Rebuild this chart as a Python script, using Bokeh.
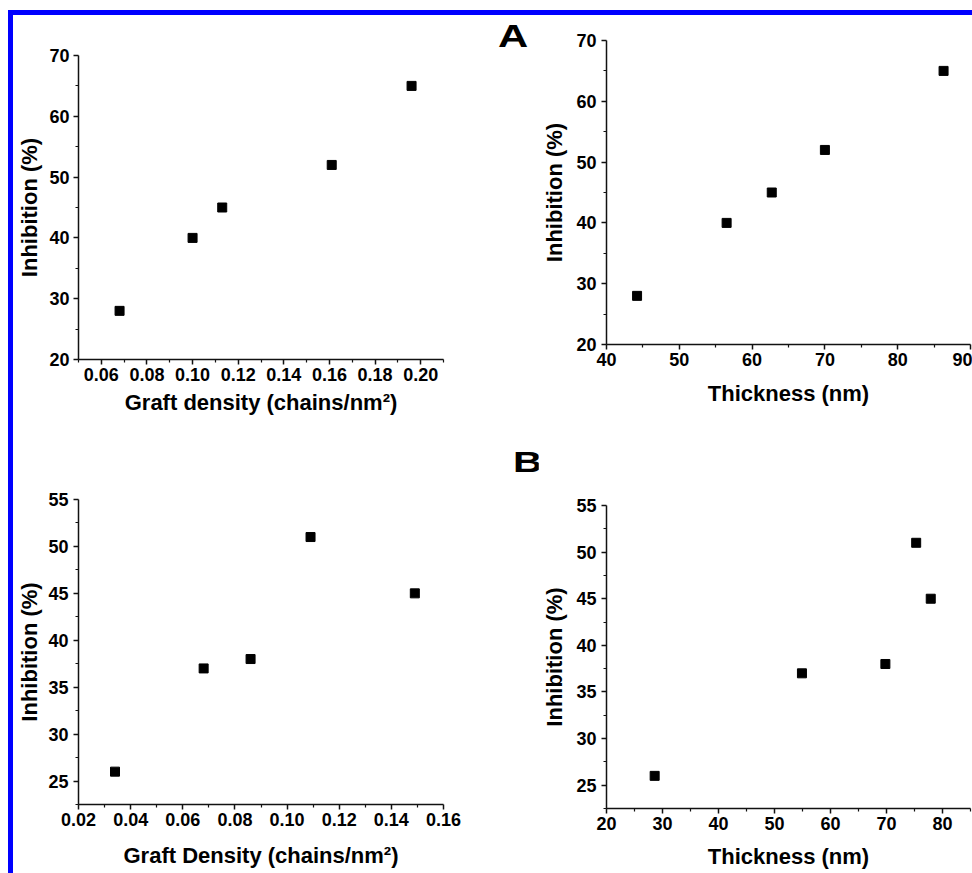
from bokeh.plotting import figure
from bokeh.layouts import column, row
from bokeh.models import FixedTicker, Range1d, NumeralTickFormatter, Spacer, Div
from bokeh.embed import file_html
from bokeh.resources import INLINE

# ---- data ----
graft_density_A = [0.068, 0.100, 0.113, 0.161, 0.196]
thickness_A = [44.2, 56.5, 62.7, 70.0, 86.3]
inhibition_A = [28, 40, 45, 52, 65]

graft_density_B = [0.034, 0.068, 0.086, 0.109, 0.149]
thickness_B = [28.6, 54.9, 69.8, 75.3, 77.9]
inhibition_B = [26, 37, 38, 51, 45]

ticks_gd_A = [0.06, 0.08, 0.10, 0.12, 0.14, 0.16, 0.18, 0.20]
minor_gd_A = [0.05, 0.07, 0.09, 0.11, 0.13, 0.15, 0.17, 0.19, 0.21]
ticks_th_A = [40, 50, 60, 70, 80, 90]
minor_th_A = [45, 55, 65, 75, 85]
ticks_inh_A = [20, 30, 40, 50, 60, 70]
minor_inh_A = [25, 35, 45, 55, 65]

ticks_gd_B = [0.02, 0.04, 0.06, 0.08, 0.10, 0.12, 0.14, 0.16]
minor_gd_B = [0.03, 0.05, 0.07, 0.09, 0.11, 0.13, 0.15]
ticks_th_B = [20, 30, 40, 50, 60, 70, 80]
minor_th_B = [25, 35, 45, 55, 65, 75, 85]
ticks_inh_B = [25, 30, 35, 40, 45, 50, 55]
minor_inh_B = [22.5, 27.5, 32.5, 37.5, 42.5, 47.5, 52.5]

FONT = "Liberation Sans"
BLUE = "#0000ff"


def style_axis(ax, label, ticks, minor, fmt, label_standoff, tick_standoff):
    ax.axis_label = label
    ax.axis_label_text_font = FONT
    ax.axis_label_text_font_size = "22px"
    ax.axis_label_text_font_style = "bold"
    ax.axis_label_text_color = "black"
    ax.axis_label_standoff = label_standoff
    ax.ticker = FixedTicker(ticks=ticks, minor_ticks=minor)
    ax.formatter = NumeralTickFormatter(format=fmt)
    ax.major_label_text_font = FONT
    ax.major_label_text_font_size = "18px"
    ax.major_label_text_font_style = "bold"
    ax.major_label_text_color = "black"
    ax.major_label_standoff = tick_standoff
    ax.axis_line_color = "#111111"
    ax.axis_line_width = 1.5
    ax.major_tick_line_color = "#111111"
    ax.major_tick_line_width = 1.5
    ax.major_tick_out = 5
    ax.major_tick_in = 0
    ax.minor_tick_line_color = "#111111"
    ax.minor_tick_line_width = 1.2
    ax.minor_tick_out = 3
    ax.minor_tick_in = 0


def make_fig(w, h, xr, yr, bl, br, bt, bb):
    p = figure(width=w, height=h, x_range=Range1d(*xr), y_range=Range1d(*yr),
               output_backend="svg", toolbar_location=None,
               min_border_left=bl, min_border_right=br,
               min_border_top=bt, min_border_bottom=bb)
    p.xgrid.visible = False
    p.ygrid.visible = False
    p.outline_line_color = None
    p.background_fill_color = "white"
    p.border_fill_color = "white"
    return p


def letter_div(ch, w, h, size, pad_left, pad_top, stretch):
    html = ('<div style="margin:0;padding:%dpx 0 0 %dpx;">'
            '<span style="display:inline-block;font-family:\'%s\';font-weight:bold;'
            'font-size:%dpx;line-height:%dpx;color:black;transform:scaleX(%.2f);'
            'transform-origin:left top;">%s</span></div>'
            % (pad_top, pad_left, FONT, size, size, stretch, ch))
    return Div(text=html, width=w, height=h, margin=0)


# ---- top-left ----
p1 = make_fig(467, 405, (0.05, 0.21), (20, 70), 65, 37, 40, 61)
p1.scatter(graft_density_A, inhibition_A, marker="square", size=9,
           fill_color="black", line_color="black")
style_axis(p1.xaxis[0], "Graft density (chains/nm²)", ticks_gd_A, minor_gd_A, "0.00", 6, 3)
style_axis(p1.yaxis[0], "Inhibition (%)", ticks_inh_A, minor_inh_A, "0", 4, 4)

# ---- top-right ----
p2 = make_fig(434, 405, (40, 90), (20, 70), 68, 2, 25, 76)
p2.scatter(thickness_A, inhibition_A, marker="square", size=9,
           fill_color="black", line_color="black")
style_axis(p2.xaxis[0], "Thickness (nm)", ticks_th_A, minor_th_A, "0", 12, 3)
style_axis(p2.yaxis[0], "Inhibition (%)", ticks_inh_A, minor_inh_A, "0", 6, 5)

# ---- bottom-left ----
p3 = make_fig(467, 453, (0.02, 0.16), (22.5, 55), 65, 37, 79, 69)
p3.scatter(graft_density_B, inhibition_B, marker="square", size=9,
           fill_color="black", line_color="black")
style_axis(p3.xaxis[0], "Graft Density (chains/nm²)", ticks_gd_B, minor_gd_B, "0.00", 14, 3)
style_axis(p3.yaxis[0], "Inhibition (%)", ticks_inh_B, minor_inh_B, "0", 3, 5)

# ---- bottom-right ----
p4 = make_fig(434, 453, (20, 85), (22.5, 55), 68, 2, 85, 65)
p4.scatter(thickness_B, inhibition_B, marker="square", size=9,
           fill_color="black", line_color="black")
style_axis(p4.xaxis[0], "Thickness (nm)", ticks_th_B, minor_th_B, "0", 11, 3)
style_axis(p4.yaxis[0], "Inhibition (%)", ticks_inh_B, minor_inh_B, "0", 6, 5)

div_A = letter_div("A", 58, 405, 31, 18, 6, 1.35)
div_B = letter_div("B", 58, 453, 29, 33, 28, 1.40)

blue_top = Spacer(width=964, height=5, styles={"background-color": BLUE})
blue_left = Spacer(width=5, height=858, styles={"background-color": BLUE})

content = row(blue_left,
              column(p1, p3),
              column(div_A, div_B),
              column(p2, p4))

layout = column(Spacer(width=972, height=10),
                row(Spacer(width=8, height=863),
                    column(blue_top, content)))

open("out.html", "w").write(file_html(layout, INLINE))
